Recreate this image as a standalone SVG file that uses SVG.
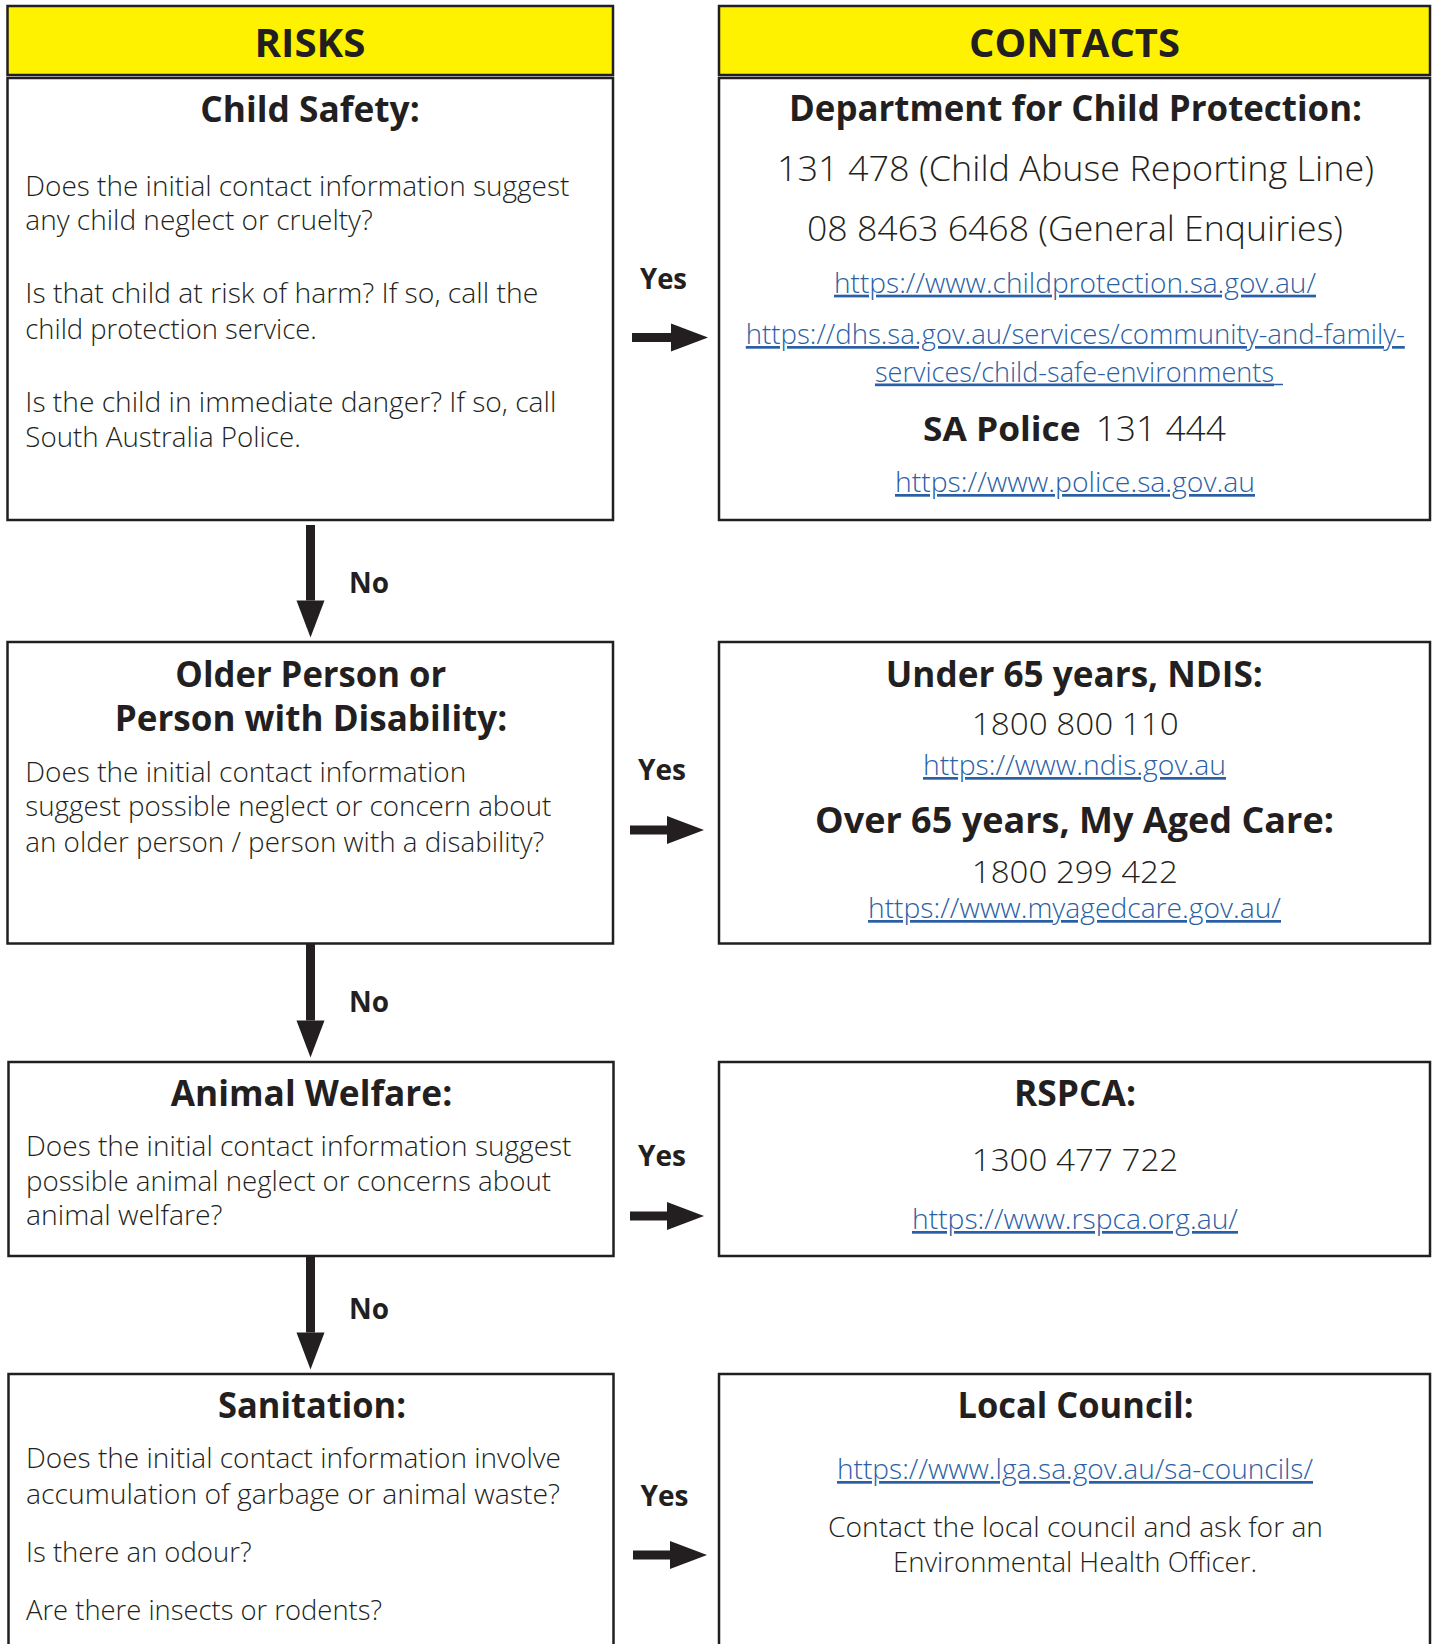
<svg xmlns="http://www.w3.org/2000/svg" width="1437" height="1644" viewBox="0 0 1437 1644">
<style>
  .box { fill: #ffffff; stroke: #231f20; stroke-width: 2.5; }
  .hdr { fill: #fff200; stroke: #231f20; stroke-width: 2.5; }
  text { font-family: "Open Sans", "Liberation Sans", sans-serif; fill: #231f20; }
  .h0 { font-size: 40px; font-weight: 700; text-anchor: middle; }
  .h1 { font-size: 35px; font-weight: 700; text-anchor: middle; }
  .body { font-size: 27px; font-weight: 300; }
  .big { font-size: 35px; font-weight: 300; text-anchor: middle; }
  .num { font-size: 31px; font-weight: 300; text-anchor: middle; }
  .ctr { font-size: 27px; font-weight: 300; text-anchor: middle; }
  .link { font-size: 27px; font-weight: 300; fill: #2b5fa5; text-decoration: underline; }
  .mid { text-anchor: middle; }
  .lbl { font-size: 29px; font-weight: 700; }
  .conn { stroke: #231f20; stroke-width: 9; fill: none; }
</style>
<defs>
  <marker id="ah" markerUnits="userSpaceOnUse" markerWidth="37" markerHeight="28" refX="0" refY="14" orient="auto" overflow="visible">
    <path d="M0,0 L37,14 L0,28 Z" fill="#231f20"/>
  </marker>
</defs>

<!-- Headers -->
<g id="risks-header">
  <rect class="hdr" x="7.5" y="6" width="605.5" height="69"/>
  <text class="h0" x="310" y="57" textLength="111" lengthAdjust="spacingAndGlyphs">RISKS</text>
</g>
<g id="contacts-header">
  <rect class="hdr" x="719" y="6" width="711" height="69"/>
  <text class="h0" x="1074.5" y="57" textLength="211" lengthAdjust="spacingAndGlyphs">CONTACTS</text>
</g>

<!-- Row 1 -->
<g id="child-safety">
  <rect class="box" x="7.5" y="78" width="605.5" height="442"/>
  <text class="h1" x="310" y="122" textLength="219.5" lengthAdjust="spacingAndGlyphs">Child Safety:</text>
  <text class="body" x="25.3" y="196" textLength="544" lengthAdjust="spacingAndGlyphs">Does the initial contact information suggest</text>
  <text class="body" x="25.3" y="230" textLength="347.5" lengthAdjust="spacingAndGlyphs">any child neglect or cruelty?</text>
  <text class="body" x="25.3" y="303" textLength="513" lengthAdjust="spacingAndGlyphs">Is that child at risk of harm? If so, call the</text>
  <text class="body" x="25.3" y="339" textLength="291.5" lengthAdjust="spacingAndGlyphs">child protection service.</text>
  <text class="body" x="25.3" y="411.5" textLength="531" lengthAdjust="spacingAndGlyphs">Is the child in immediate danger? If so, call</text>
  <text class="body" x="25.3" y="447" textLength="275.5" lengthAdjust="spacingAndGlyphs">South Australia Police.</text>
</g>
<g id="child-protection-contacts">
  <rect class="box" x="719" y="78" width="711" height="442"/>
  <text class="h1" x="1075.5" y="121" textLength="573" lengthAdjust="spacingAndGlyphs">Department for Child Protection:</text>
  <text class="big" x="1075.5" y="181" textLength="597" lengthAdjust="spacingAndGlyphs">131 478 (Child Abuse Reporting Line)</text>
  <text class="big" x="1075" y="241" textLength="536" lengthAdjust="spacingAndGlyphs">08 8463 6468 (General Enquiries)</text>
  <text class="link mid" x="1075" y="292.7" textLength="482" lengthAdjust="spacingAndGlyphs">https://www.childprotection.sa.gov.au/</text>
  <text class="link mid" x="1075.3" y="344" textLength="659" lengthAdjust="spacingAndGlyphs">https://dhs.sa.gov.au/services/community-and-family-</text>
  <text class="link" x="875" y="381.5" textLength="399" lengthAdjust="spacingAndGlyphs">services/child-safe-environments</text>
  <line x1="1274" y1="384.5" x2="1283" y2="384.5" stroke="#2b5fa5" stroke-width="1.5"/>
  <text x="923" y="441" font-size="34"><tspan font-weight="700" textLength="157.6" lengthAdjust="spacingAndGlyphs">SA Police</tspan><tspan x="1095.7" font-weight="300" textLength="130.3" lengthAdjust="spacingAndGlyphs">131 444</tspan></text>
  <text class="link" x="895" y="492" textLength="360" lengthAdjust="spacingAndGlyphs">https://www.police.sa.gov.au</text>
</g>

<!-- Row 2 -->
<g id="older-person">
  <rect class="box" x="7.5" y="642" width="605.5" height="301.5"/>
  <text class="h1" x="310.8" y="687" textLength="271" lengthAdjust="spacingAndGlyphs">Older Person or</text>
  <text class="h1" x="311" y="731" textLength="392.5" lengthAdjust="spacingAndGlyphs">Person with Disability:</text>
  <text class="body" x="25.3" y="782" textLength="441" lengthAdjust="spacingAndGlyphs">Does the initial contact information</text>
  <text class="body" x="25.3" y="816" textLength="526" lengthAdjust="spacingAndGlyphs">suggest possible neglect or concern about</text>
  <text class="body" x="25.3" y="852" textLength="519" lengthAdjust="spacingAndGlyphs">an older person / person with a disability?</text>
</g>
<g id="ndis-aged-care-contacts">
  <rect class="box" x="719" y="642" width="711" height="301.5"/>
  <text class="h1" x="1074.3" y="687" textLength="377" lengthAdjust="spacingAndGlyphs">Under 65 years, NDIS:</text>
  <text class="num" x="1075.3" y="735" textLength="207" lengthAdjust="spacingAndGlyphs">1800 800 110</text>
  <text class="link mid" x="1074.5" y="775" textLength="303" lengthAdjust="spacingAndGlyphs">https://www.ndis.gov.au</text>
  <text class="h1" x="1074.5" y="833" textLength="519" lengthAdjust="spacingAndGlyphs">Over 65 years, My Aged Care:</text>
  <text class="num" x="1074.8" y="883" textLength="206" lengthAdjust="spacingAndGlyphs">1800 299 422</text>
  <text class="link mid" x="1074.5" y="918" textLength="413" lengthAdjust="spacingAndGlyphs">https://www.myagedcare.gov.au/</text>
</g>

<!-- Row 3 -->
<g id="animal-welfare">
  <rect class="box" x="8.5" y="1062" width="605" height="194"/>
  <text class="h1" x="311.5" y="1106" textLength="281.5" lengthAdjust="spacingAndGlyphs">Animal Welfare:</text>
  <text class="body" x="26" y="1155.6" textLength="545.5" lengthAdjust="spacingAndGlyphs">Does the initial contact information suggest</text>
  <text class="body" x="26" y="1191" textLength="525" lengthAdjust="spacingAndGlyphs">possible animal neglect or concerns about</text>
  <text class="body" x="26" y="1225" textLength="196.5" lengthAdjust="spacingAndGlyphs">animal welfare?</text>
</g>
<g id="rspca-contacts">
  <rect class="box" x="719" y="1062" width="711" height="194"/>
  <text class="h1" x="1075" y="1106" textLength="122" lengthAdjust="spacingAndGlyphs">RSPCA:</text>
  <text class="num" x="1075" y="1171" font-size="32" textLength="206.5" lengthAdjust="spacingAndGlyphs">1300 477 722</text>
  <text class="link mid" x="1075" y="1229" textLength="326" lengthAdjust="spacingAndGlyphs">https://www.rspca.org.au/</text>
</g>

<!-- Row 4 -->
<g id="sanitation">
  <rect class="box" x="8.5" y="1374" width="605" height="300"/>
  <text class="h1" x="312" y="1418" textLength="188" lengthAdjust="spacingAndGlyphs">Sanitation:</text>
  <text class="body" x="26" y="1468" textLength="535" lengthAdjust="spacingAndGlyphs">Does the initial contact information involve</text>
  <text class="body" x="26" y="1504" textLength="534" lengthAdjust="spacingAndGlyphs">accumulation of garbage or animal waste?</text>
  <text class="body" x="26" y="1562" textLength="225.5" lengthAdjust="spacingAndGlyphs">Is there an odour?</text>
  <text class="body" x="26" y="1620" textLength="356" lengthAdjust="spacingAndGlyphs">Are there insects or rodents?</text>
</g>
<g id="local-council-contacts">
  <rect class="box" x="719" y="1374" width="711" height="300"/>
  <text class="h1" x="1075.5" y="1418" textLength="236" lengthAdjust="spacingAndGlyphs">Local Council:</text>
  <text class="link mid" x="1075" y="1479" textLength="476" lengthAdjust="spacingAndGlyphs">https://www.lga.sa.gov.au/sa-councils/</text>
  <text class="ctr" x="1075.5" y="1537" textLength="495" lengthAdjust="spacingAndGlyphs">Contact the local council and ask for an</text>
  <text class="ctr" x="1075" y="1571.6" textLength="364" lengthAdjust="spacingAndGlyphs">Environmental Health Officer.</text>
</g>

<!-- Connectors -->
<g id="connectors">
  <line class="conn" x1="632" y1="337.5" x2="671" y2="337.5" marker-end="url(#ah)"/>
  <line class="conn" x1="630" y1="830" x2="667" y2="830" marker-end="url(#ah)"/>
  <line class="conn" x1="630" y1="1216" x2="667" y2="1216" marker-end="url(#ah)"/>
  <line class="conn" x1="633" y1="1555" x2="670" y2="1555" marker-end="url(#ah)"/>
  <line class="conn" x1="310.5" y1="525" x2="310.5" y2="600.5" stroke-width="8" marker-end="url(#ah)"/>
  <line class="conn" x1="310.5" y1="944" x2="310.5" y2="1020.5" stroke-width="8" marker-end="url(#ah)"/>
  <line class="conn" x1="310.5" y1="1256" x2="310.5" y2="1332.5" stroke-width="8" marker-end="url(#ah)"/>
  <text class="lbl" x="640" y="288.6" textLength="47" lengthAdjust="spacingAndGlyphs">Yes</text>
  <text class="lbl" x="638" y="780" textLength="48" lengthAdjust="spacingAndGlyphs">Yes</text>
  <text class="lbl" x="638" y="1166" textLength="48" lengthAdjust="spacingAndGlyphs">Yes</text>
  <text class="lbl" x="640.5" y="1506" textLength="48" lengthAdjust="spacingAndGlyphs">Yes</text>
  <text class="lbl" x="349" y="593" textLength="40" lengthAdjust="spacingAndGlyphs">No</text>
  <text class="lbl" x="349" y="1012" textLength="40" lengthAdjust="spacingAndGlyphs">No</text>
  <text class="lbl" x="349" y="1319" textLength="40" lengthAdjust="spacingAndGlyphs">No</text>
</g>
</svg>
